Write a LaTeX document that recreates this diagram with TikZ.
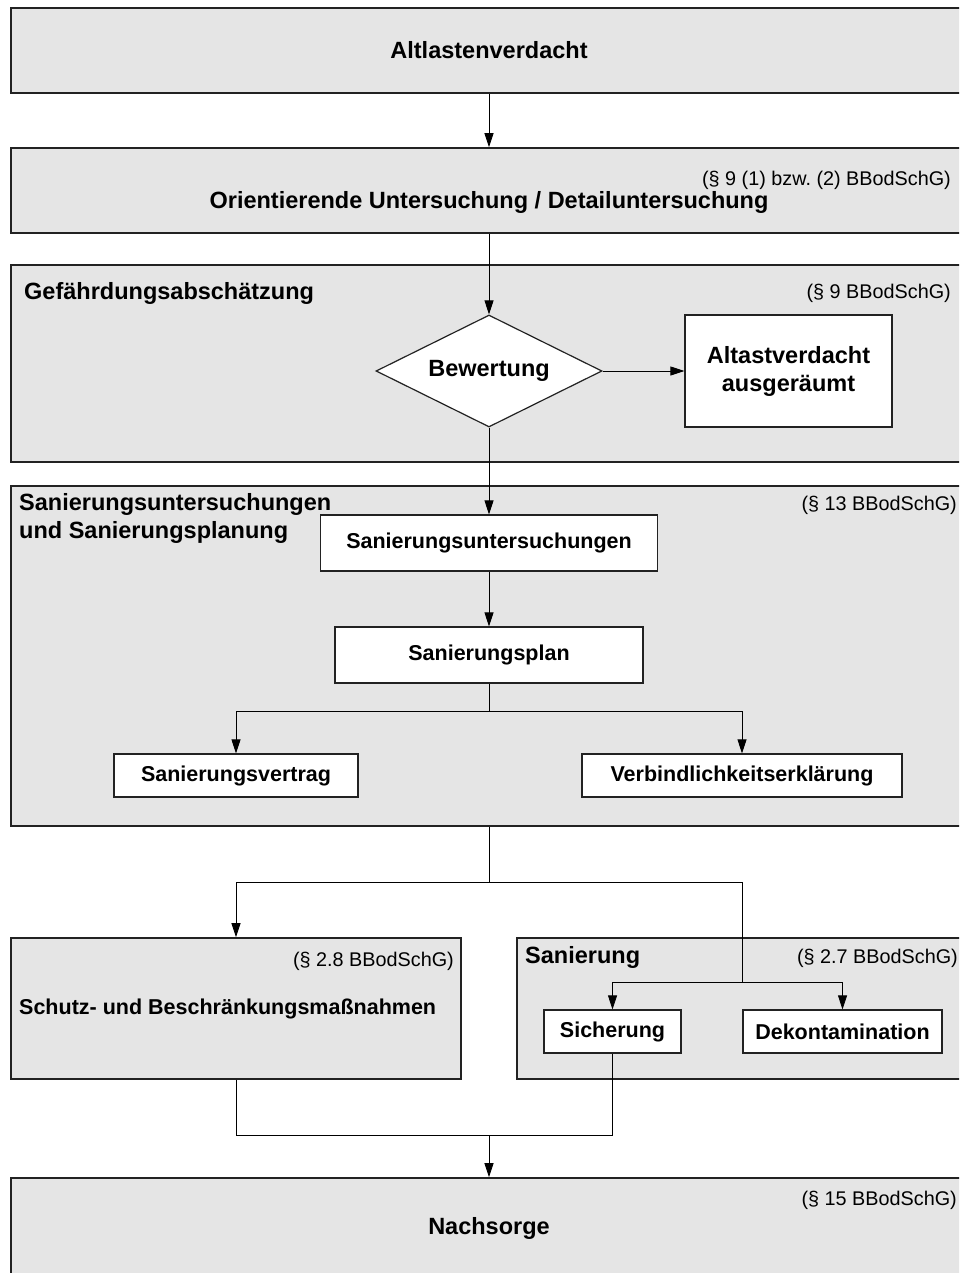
\documentclass[tikz,border=0pt]{standalone}
\usepackage{fontspec}
\setmainfont{Liberation Sans}
\usetikzlibrary{shapes.geometric, arrows.meta}
\frenchspacing
\newcommand{\headfont}{\fontsize{23.5}{28}\selectfont\bfseries}
\newcommand{\boxfont}{\fontsize{21.5}{26}\selectfont\bfseries}
\newcommand{\lawfont}{\fontsize{19.8}{24}\selectfont}
\definecolor{zonegray}{HTML}{E5E5E5}
\definecolor{linegray}{HTML}{222222}
\tikzset{
	zone/.style = {draw=linegray, line width=1.6pt, fill=zonegray, inner sep=0pt},
	stepbox/.style = {draw=linegray, line width=1.2pt, fill=white, inner sep=0pt},
	lbl/.style = {inner sep=0pt},
	wire/.style = {line width=0.8pt},
	arr/.style = {wire, -{Triangle[length=14pt, width=9pt]}}
}
\begin{document}
\begin{tikzpicture}[x=1pt, y=-1pt]
		\clip (0,0) rectangle (959,1273);
		% grey bands
		\node[zone, minimum width=956pt, minimum height=85pt, font=\headfont] (suspicion) at (489,50.5) {Altlastenverdacht};
		\node[zone, minimum width=956pt, minimum height=85pt] (explore) at (489,190.5) {};
		\node[zone, minimum width=956pt, minimum height=197pt] (hazard) at (489,363.5) {};
		\node[zone, minimum width=956pt, minimum height=340pt] (remedplan) at (489,656) {};
		\node[zone, minimum width=450pt, minimum height=141pt] (protect) at (236,1008.5) {};
		\node[zone, minimum width=450pt, minimum height=141pt] (remed) at (742,1008.5) {};
		\node[zone, minimum width=956pt, minimum height=112pt] (aftercare) at (489,1234) {};
		% band texts
		\node[lbl, anchor=east, font=\lawfont] (law1) at (951,180) {(§ 9 (1) bzw. (2) BBodSchG)};
		\node[lbl, font=\headfont] (exploretxt) at (489,202) {Orientierende Untersuchung / Detailuntersuchung};
		\node[lbl, anchor=west, font=\headfont] (hazardtxt) at (24,293) {Gefährdungsabschätzung};
		\node[lbl, anchor=east, font=\lawfont] (law2) at (951,293) {(§ 9 BBodSchG)};
		\node[lbl, anchor=west, align=left, font=\headfont] (remedplantxt) at (19,518.5) {Sanierungsuntersuchungen\\und Sanierungsplanung};
		\node[lbl, anchor=east, font=\lawfont] (law3) at (957,505) {(§ 13 BBodSchG)};
		\node[lbl, anchor=east, font=\lawfont] (law4) at (454,961) {(§ 2.8 BBodSchG)};
		\node[lbl, anchor=west, font=\boxfont] (protecttxt) at (19,1009) {Schutz- und Beschränkungsmaßnahmen};
		\node[lbl, anchor=west, font=\headfont] (remedtxt) at (525,957) {Sanierung};
		\node[lbl, anchor=east, font=\lawfont] (law5) at (958,958) {(§ 2.7 BBodSchG)};
		\node[lbl, anchor=east, font=\lawfont] (law6) at (957,1200) {(§ 15 BBodSchG)};
		\node[lbl, font=\headfont] (aftercaretxt) at (489,1228) {Nachsorge};
		% white steps
		\node[diamond, draw=linegray, line width=1.2pt, fill=white, aspect=2, inner sep=0pt, minimum width=226pt, minimum height=112pt, font=\headfont] (bew) at (489,371) {Bewertung};
		\node[stepbox, minimum width=207pt, minimum height=112pt, align=center, font=\headfont] (cleared) at (788.5,371) {Altastverdacht\\ausgeräumt};
		\node[stepbox, minimum width=337pt, minimum height=56pt, font=\boxfont] (invest) at (489,543) {Sanierungsuntersuchungen};
		\node[stepbox, minimum width=308pt, minimum height=56pt, font=\boxfont] (plan) at (489,655) {Sanierungsplan};
		\node[stepbox, minimum width=244pt, minimum height=43pt, font=\boxfont] (contract) at (236,775.5) {Sanierungsvertrag};
		\node[stepbox, minimum width=320pt, minimum height=43pt, font=\boxfont] (declar) at (742,775.5) {Verbindlichkeitserklärung};
		\node[stepbox, minimum width=137pt, minimum height=43pt, font=\boxfont] (secure) at (612.5,1031.5) {Sicherung};
		\node[stepbox, minimum width=199pt, minimum height=43pt, font=\boxfont] (decon) at (842.5,1031.5) {Dekontamination};
		\coordinate (split1) at (489,711);
		\coordinate (split2) at (489,882);
		\coordinate (split3) at (742,982);
		\coordinate (join) at (489,1135);
		% connectors
		\draw[arr] (suspicion.south) -- (explore.north);
		\draw[arr] (explore.south) -- (bew.north);
		\draw[arr] (bew.east) -- (cleared.west);
		\draw[arr] (bew.south) -- (invest.north);
		\draw[arr] (invest.south) -- (plan.north);
		\draw[wire] (plan.south) -- (split1);
		\draw[arr] (split1) -| (contract.north);
		\draw[arr] (split1) -| (declar.north);
		\draw[wire] (remedplan.south) -- (split2);
		\draw[arr] (split2) -| (protect.north);
		\draw[wire] (split2) -| (split3);
		\draw[arr] (split3) -| (secure.north);
		\draw[arr] (split3) -| (decon.north);
		\draw[wire] (protect.south) |- (join);
		\draw[wire] (secure.south) |- (join);
		\draw[arr] (join) -- (aftercare.north);
	\end{tikzpicture}
\end{document}
